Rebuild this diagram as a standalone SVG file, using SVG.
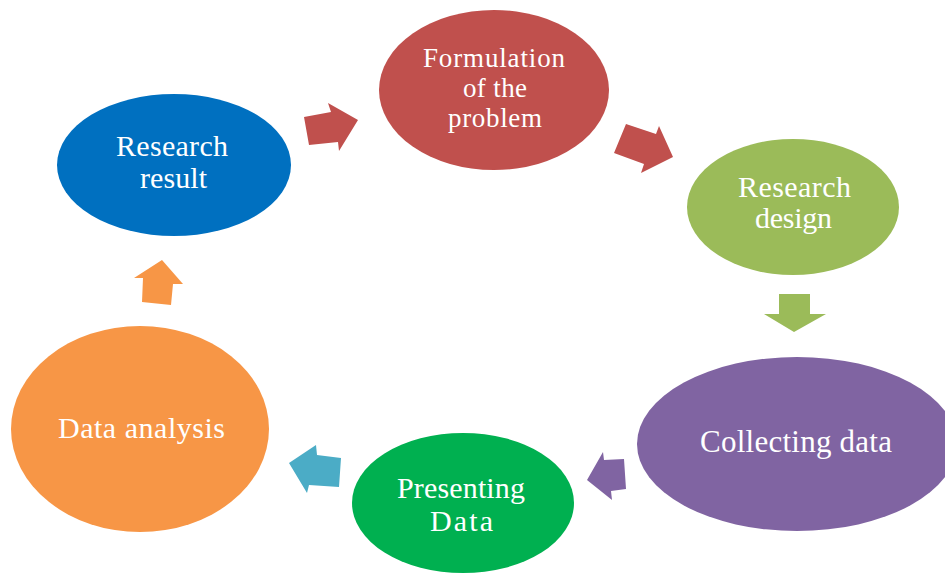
<svg xmlns="http://www.w3.org/2000/svg" width="945" height="576" viewBox="0 0 945 576">
<style>
text{font-family:"Liberation Serif","Times New Roman",serif;font-size:30px;fill:#fff;text-anchor:middle}
</style>
<rect width="945" height="576" fill="#fff"/>
<g id="connectors">
<polygon points="304,117 331,112 328,103 358,120 339,151 338,142 309,145" fill="#C0504D"/>
<polygon points="626,124 656,134 659,126 673,157 641,173 644,164 614,153" fill="#C0504D"/>
<polygon points="779,294 810,294 810,314 826,314 794,332 764,314 779,314" fill="#9BBB59"/>
<polygon points="624,459 604,460 603,452 587,480 612,500 611,491 626,489" fill="#8064A2"/>
<polygon points="341,458 317,455 316,445 289,463 307,493 309,485 339,487" fill="#4BACC6"/>
<polygon points="142,302 171,305 173,284 183,284 162,260 134,278 143,278" fill="#F79646"/>
</g>
<g id="research-result">
<ellipse cx="174" cy="165" rx="117" ry="71" fill="#0070C0"/>
<text x="172" y="156" textLength="112">Research</text>
<text x="173.5" y="188" textLength="67">result</text>
</g>
<g id="formulation">
<ellipse cx="494" cy="90" rx="115" ry="80" fill="#C0504D"/>
<text x="494" y="67" textLength="142" style="font-size:27px">Formulation</text>
<text x="495" y="97" textLength="64" style="font-size:27px">of the</text>
<text x="495" y="127" textLength="94" style="font-size:27px">problem</text>
</g>
<g id="research-design">
<ellipse cx="793" cy="207" rx="106" ry="68" fill="#9BBB59"/>
<text x="794.5" y="197" textLength="113">Research</text>
<text x="793.5" y="228" textLength="77">design</text>
</g>
<g id="collecting-data">
<ellipse cx="797" cy="444" rx="160" ry="87" fill="#8064A2"/>
<text x="796" y="452" textLength="192" style="font-size:31px">Collecting data</text>
</g>
<g id="presenting-data">
<ellipse cx="463" cy="503" rx="111" ry="70" fill="#00B050"/>
<text x="461" y="498" textLength="128">Presenting</text>
<text x="461.5" y="531" textLength="63">Data</text>
</g>
<g id="data-analysis">
<ellipse cx="140" cy="429" rx="129" ry="103" fill="#F79646"/>
<text x="141.5" y="438" textLength="167">Data analysis</text>
</g>
</svg>
